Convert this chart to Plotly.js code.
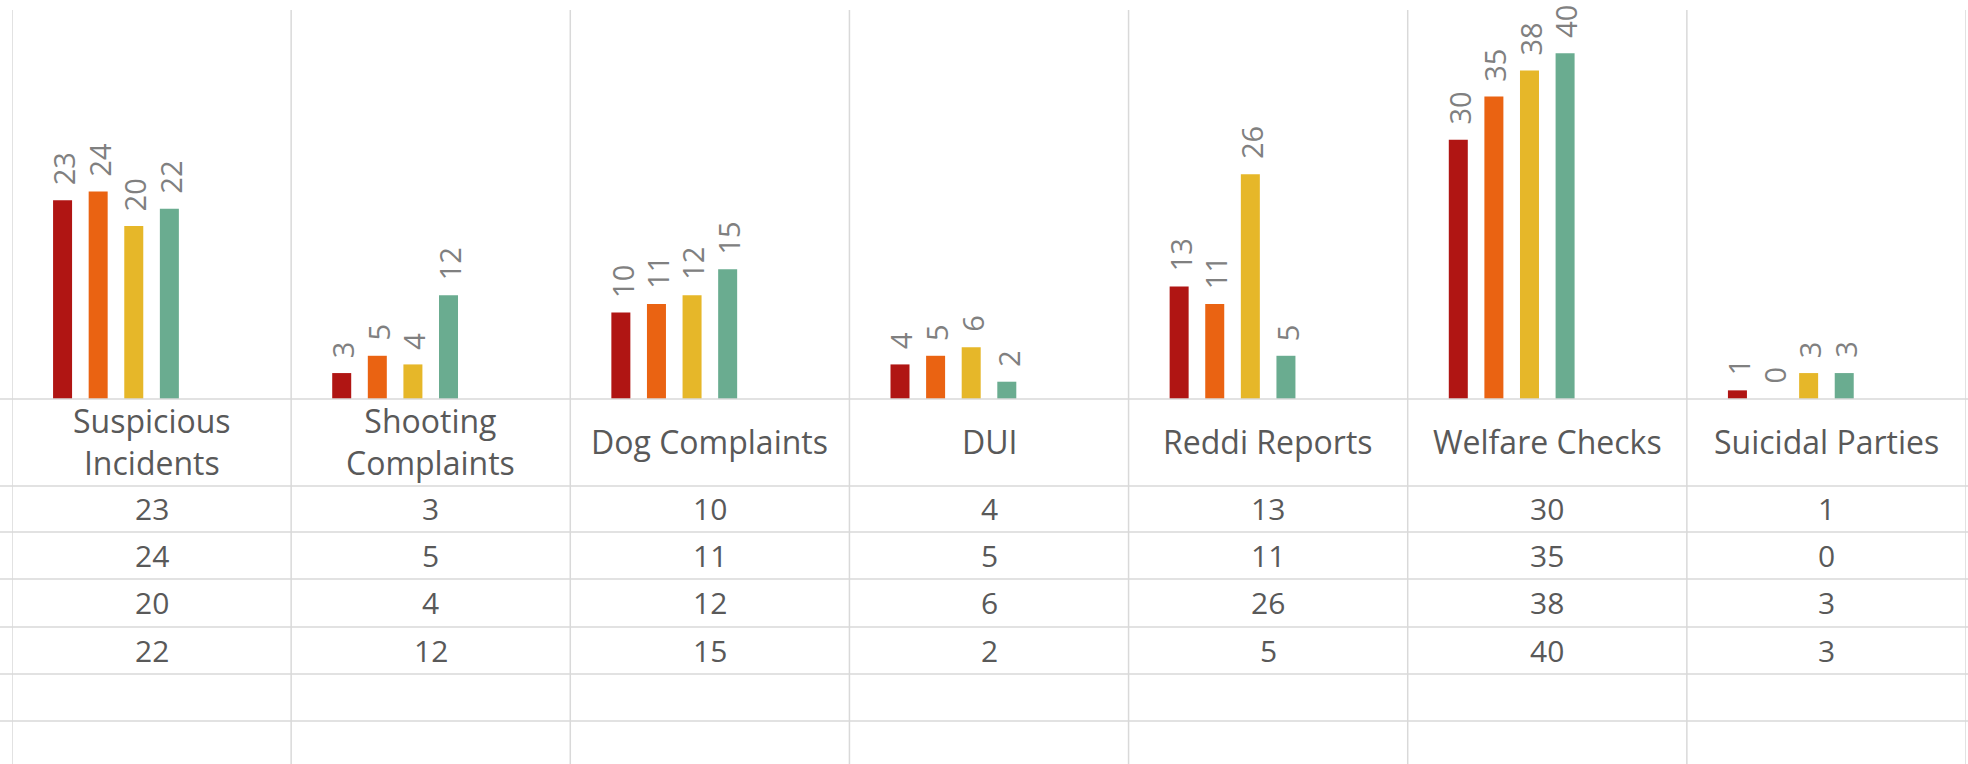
<!DOCTYPE html>
<html>
<head>
<meta charset="utf-8">
<script src="https://cdn.plot.ly/plotly-3.0.1.min.js"></script>
<style>
  html, body { margin: 0; padding: 0; background: #fff; overflow: hidden; }
  #chart { width: 1968px; height: 764px; }
</style>
</head>
<body>
<div id="chart"></div>
<script>
// categories (x axis / table header)
const categories = ['Suspicious Incidents', 'Shooting Complaints', 'Dog Complaints', 'DUI',
  'Reddi Reports', 'Welfare Checks', 'Suicidal Parties'];
const headerLabels = ['Suspicious<br>Incidents', 'Shooting<br>Complaints', 'Dog Complaints', 'DUI',
  'Reddi Reports', 'Welfare Checks', 'Suicidal Parties'];

// series (table rows) - the row label column is cropped off in the picture
const seriesNames = ['Series 1', 'Series 2', 'Series 3', 'Series 4'];
const s1 = [23, 3, 10, 4, 13, 30, 1];
const s2 = [24, 5, 11, 5, 11, 35, 0];
const s3 = [20, 4, 12, 6, 26, 38, 3];
const s4 = [22, 12, 15, 2, 5, 40, 3];
const seriesValues = [s1, s2, s3, s4];
const colors = ['#B01513', '#EA6312', '#E6B729', '#6AAC90'];

// geometry (pixels)
const W = 1968, H = 764;
const M = { l: 12, r: 2, t: 10, b: 365 };
const plotH = H - M.t - M.b;          // 389
const plotW = W - M.l - M.r;
const baseY = H - M.b;                // 399
const rowLines = [399, 486, 532, 579, 627, 674, 721];
const slotPx = 35.6, barPx = 19;      // excel leaves room for 6 rows, 2 are empty
const catPx = plotW / categories.length;

const py = (Y) => (baseY - Y) / plotH;
const pxp = (X) => (X - M.l) / plotW;

const font = 'Open Sans, DejaVu Sans, sans-serif';
const tableColor = '#595959';
const labelColor = '#808080';
const gridColor = '#D9D9D9';

const data = seriesValues.map((vals, i) => ({
  type: 'bar',
  x: categories,
  y: vals,
  name: seriesNames[i],
  width: barPx / catPx,
  offset: (i - 2.5) * slotPx / catPx - barPx / catPx / 2,
  marker: { color: colors[i] },
  hoverinfo: 'x+y',
}));

const shapes = [];
// column separators run through plot and table
for (let k = 0; k <= categories.length; k++) {
  shapes.push({ type: 'line', xref: 'x', yref: 'paper', x0: k - 0.5, x1: k - 0.5,
    y0: 1, y1: py(H + 2), line: { color: gridColor, width: 1.5 }, layer: 'below' });
}
// table row lines
for (const Y of rowLines) {
  shapes.push({ type: 'line', xref: 'paper', yref: 'paper', x0: pxp(-5), x1: pxp(W + 5),
    y0: py(Y), y1: py(Y), line: { color: gridColor, width: 1.5 } });
}

const annotations = [];
// data labels above bars
seriesValues.forEach((vals, i) => {
  vals.forEach((v, j) => {
    annotations.push({ xref: 'x', yref: 'y', x: categories[j], y: v, text: String(v),
      textangle: -90, showarrow: false, xshift: (i - 2.5) * slotPx + 1, yanchor: 'bottom',
      yshift: 13, font: { family: font, size: 29, color: labelColor } });
  });
});
// table header
headerLabels.forEach((t, j) => {
  annotations.push({ xref: 'x', yref: 'paper', x: categories[j], y: py((rowLines[0] + rowLines[1]) / 2 - 1),
    text: t, showarrow: false, yanchor: 'middle', font: { family: font, size: 32, color: tableColor } });
});
// table values
seriesValues.forEach((vals, i) => {
  const yc = py((rowLines[i + 1] + rowLines[i + 2]) / 2);
  vals.forEach((v, j) => {
    annotations.push({ xref: 'x', yref: 'paper', x: categories[j], y: yc, text: String(v),
      showarrow: false, yanchor: 'middle', font: { family: font, size: 30, color: tableColor } });
  });
});

const layout = {
  width: W, height: H,
  margin: M,
  paper_bgcolor: '#fff', plot_bgcolor: '#fff',
  showlegend: false,
  barmode: 'group',
  xaxis: { type: 'category', showticklabels: false, showgrid: false, zeroline: false,
    showline: false, ticks: '', range: [-0.5, categories.length - 0.5] },
  yaxis: { range: [0, 45], showticklabels: false, showgrid: false, zeroline: false,
    showline: false, ticks: '' },
  shapes, annotations,
};

Plotly.newPlot('chart', data, layout, { displayModeBar: false, staticPlot: true });
</script>
</body>
</html>
